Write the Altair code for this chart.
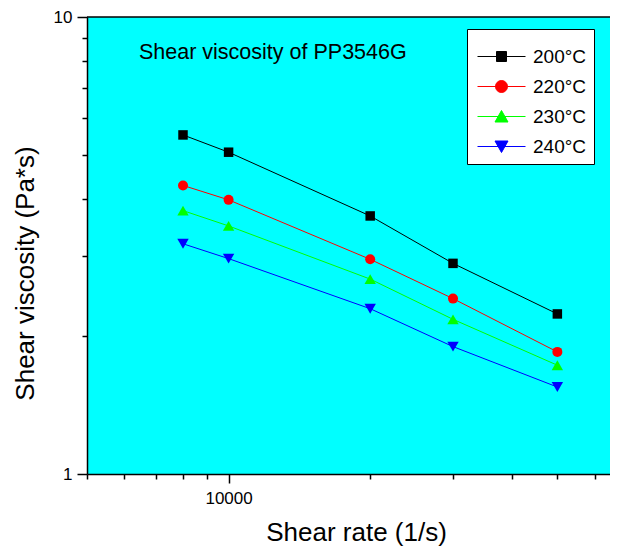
import altair as alt
import pandas as pd

# ---- data ----
shear_rate = [8000, 10000, 20000, 30000, 50000]
visc_200 = [5.52, 5.06, 3.67, 2.89, 2.24]
visc_220 = [4.28, 3.98, 2.95, 2.42, 1.85]
visc_230 = [3.77, 3.49, 2.67, 2.18, 1.73]
visc_240 = [3.19, 2.96, 2.30, 1.90, 1.55]
series = ["200°C", "220°C", "230°C", "240°C"]
colors = ["#000000", "#FF0000", "#00FF00", "#0000FF"]
marker_shapes = ["square", "circle", "triangle-up", "triangle-down"]
marker_sizes = [90, 100, 130, 130]
x_ticks = [5000, 6000, 7000, 8000, 9000, 10000, 20000, 30000, 40000, 50000, 60000]
y_ticks = [1, 2, 3, 4, 5, 6, 7, 8, 9, 10]
plot_title = "Shear viscosity of PP3546G"

# legend symbols: a line with the marker on it
legend_paths = [
    "M-2.4,0H2.4M-0.5,-0.5H0.5V0.5H-0.5Z",
    "M-2.4,0H2.4M0.6,0A0.6,0.6,0,1,1,-0.6,0A0.6,0.6,0,1,1,0.6,0Z",
    "M-2.4,0H2.4M-0.65,0.55L0,-0.6L0.65,0.55Z",
    "M-2.4,0H2.4M-0.65,-0.55L0,0.6L0.65,-0.55Z",
]

rows = []
for name, vals in zip(series, [visc_200, visc_220, visc_230, visc_240]):
    for r, v in zip(shear_rate, vals):
        rows.append({"series": name, "rate": r, "visc": v})
df = pd.DataFrame(rows)

FONT = "Liberation Sans"

x_enc = alt.X(
    "rate:Q",
    scale=alt.Scale(type="log", domain=[5000, 64700], nice=False),
    axis=alt.Axis(
        values=x_ticks,
        labelExpr="datum.value == 10000 ? '10000' : ''",
        title="Shear rate (1/s)",
        grid=False,
        labelFlush=False,
        labelOverlap=False,
        tickSize={"condition": {"test": "datum.value == 10000", "value": 9}, "value": 5},
        labelPadding=7,
        titleX=269,
        titleY=66,
        titleAlign="center",
        titleBaseline="alphabetic",
    ),
)
y_enc = alt.Y(
    "visc:Q",
    scale=alt.Scale(type="log", domain=[1, 10], nice=False),
    axis=alt.Axis(
        values=y_ticks,
        labelExpr="(datum.value == 1 || datum.value == 10) ? datum.label : ''",
        title="Shear viscosity (Pa*s)",
        grid=False,
        labelFlush=False,
        labelOverlap=False,
        tickSize={"condition": {"test": "datum.value == 1 || datum.value == 10", "value": 10}, "value": 5},
        labelPadding=5,
        titleX=-62,
        titleY=256,
        titleAlign="center",
        titleBaseline="middle",
        titleAngle=270,
    ),
)

layers = []
for name, col in zip(series, colors):
    layers.append(
        alt.Chart(df).transform_filter(alt.datum.series == name)
        .mark_line(color=col, strokeWidth=1)
        .encode(x=x_enc, y=y_enc)
    )
for name, col, shp, sz in zip(series, colors, marker_shapes, marker_sizes):
    layers.append(
        alt.Chart(df).transform_filter(alt.datum.series == name)
        .mark_point(filled=True, color=col, shape=shp, size=sz, opacity=1)
        .encode(x=x_enc, y=y_enc)
    )

leg = alt.Legend(
    title=" ",
    titleFontSize=10,
    titlePadding=0,
    orient="none",
    legendX=380,
    legendY=12,
    fillColor="white",
    strokeColor="black",
    padding=7,
    symbolSize=400,
    symbolOffset=17,
    symbolStrokeWidth=1,
    labelOffset=21,
    rowPadding=9,
    labelFont=FONT,
    labelFontSize=19,
    labelColor="black",
    labelExpr="datum.label + ' '",
)
legend_layer = alt.Chart(df).transform_filter("false").mark_point(filled=True, opacity=1).encode(
    x=x_enc,
    y=y_enc,
    fill=alt.Fill("series:N", scale=alt.Scale(domain=series, range=colors), legend=leg),
    stroke=alt.Stroke("series:N", scale=alt.Scale(domain=series, range=colors), legend=leg),
    shape=alt.Shape("series:N", scale=alt.Scale(domain=series, range=legend_paths), legend=leg),
)
layers.append(legend_layer)

layers.append(
    alt.Chart(pd.DataFrame({"v": [10]})).mark_rule(color="black", strokeWidth=1.5).encode(y=alt.datum(10))
)
layers.append(
    alt.Chart(pd.DataFrame({"t": [plot_title]})).mark_text(
        align="left", baseline="alphabetic", font=FONT, fontSize=21.5, color="black"
    ).encode(text="t:N", x=alt.value(52), y=alt.value(42))
)

chart = (
    alt.layer(*layers)
    .properties(
        width=523,
        height=457,
        autosize=alt.AutoSizeParams(type="none"),
        padding={"left": 79, "top": 9, "right": 0, "bottom": 72},
        background="white",
    )
    .configure_view(fill="#00FFFF", stroke=None)
    .configure_axis(
        domainColor="black",
        domainWidth=1.5,
        tickColor="black",
        tickWidth=1.5,
        labelFont=FONT,
        labelFontSize=17,
        labelColor="black",
        titleFont=FONT,
        titleFontSize=26,
        titleFontWeight="normal",
        titleColor="black",
    )
)

chart.save("out.html", embed_options={"renderer": "svg", "actions": False})
